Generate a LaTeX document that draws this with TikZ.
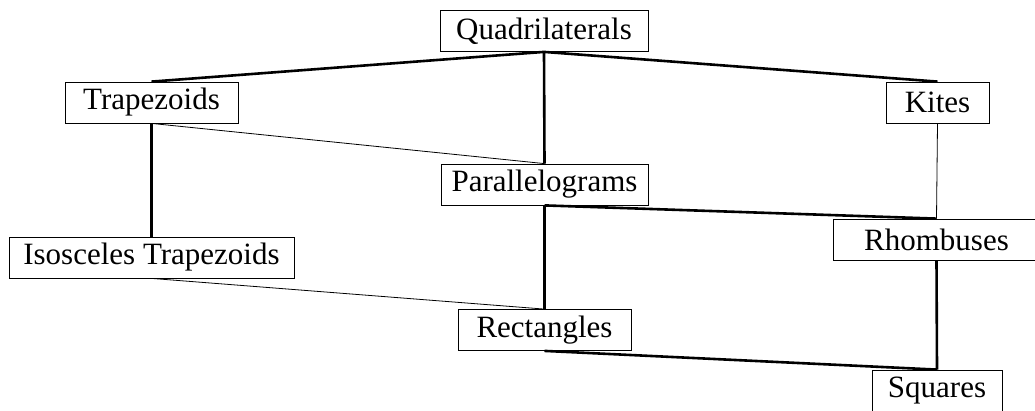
\documentclass[tikz,border=0pt]{standalone}
\usepackage{fontspec}
\setmainfont{Liberation Serif}
\begin{document}
\begin{tikzpicture}[x=1bp,y=-1bp,
  box/.style={draw,line width=0.8bp,minimum height=41bp,inner sep=0pt,
    font=\fontsize{31bp}{36bp}\selectfont,fill=white},
  thick link/.style={line width=2.6bp},
  thin link/.style={line width=0.8bp}]
\useasboundingbox (0,0) rectangle (1035,410);
\node[box,minimum width=208bp] (quad) at (544,31) {Quadrilaterals};
\node[box,minimum width=173bp] (trap) at (151.5,102.5) {Trapezoids};
\node[box,minimum width=103bp] (kite) at (937.5,102.5) {Kites};
\node[box,minimum width=207bp] (para) at (544.5,184.5) {Parallelograms};
\node[box,minimum width=285bp] (iso) at (151.5,257.5) {Isosceles Trapezoids};
\node[box,minimum width=206bp] (rhomb) at (936.5,239.5) {Rhombuses};
\node[box,minimum width=173bp] (rect) at (544.5,330) {Rectangles};
\node[box,minimum width=130bp] (sq) at (937,390.5) {Squares};
\draw[thick link] (quad.south) -- (trap.north);
\draw[thick link] (quad.south) -- (para.north);
\draw[thick link] (quad.south) -- (kite.north);
\draw[thin link] (trap.south) -- (para.north);
\draw[thick link] (trap.south) -- (iso.north);
\draw[thin link] (kite.south) -- (rhomb.north);
\draw[thick link] (para.south) -- (rhomb.north);
\draw[thick link] (para.south) -- (rect.north);
\draw[thin link] (iso.south) -- (rect.north);
\draw[thick link] (rhomb.south) -- (sq.north);
\draw[thick link] (rect.south) -- (sq.north);
\end{tikzpicture}
\end{document}
